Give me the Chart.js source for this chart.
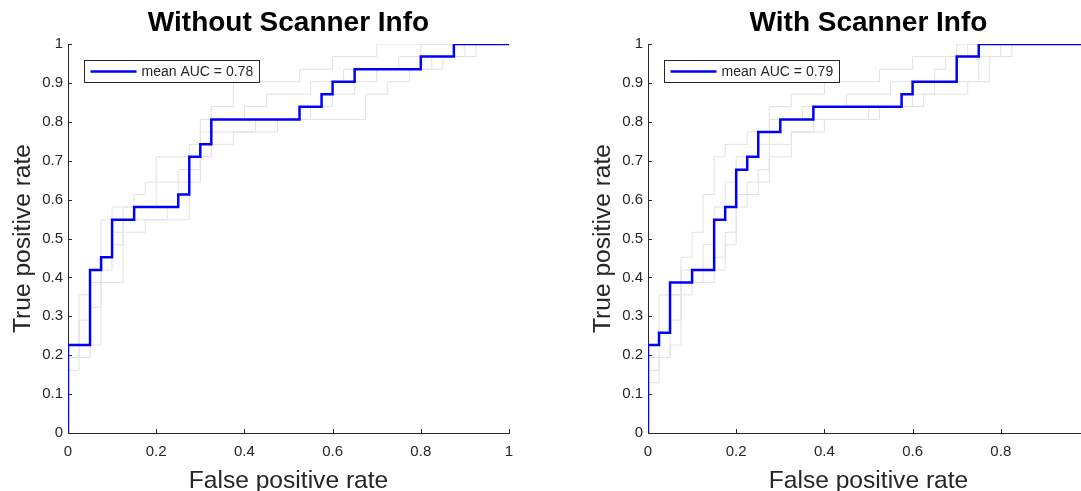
<!DOCTYPE html>
<html>
<head>
<meta charset="utf-8">
<script src="https://cdn.jsdelivr.net/npm/chart.js@4.4.0/dist/chart.umd.min.js"></script>
<style>
html, body { margin: 0; padding: 0; background: #fff; overflow: hidden; width: 1081px; height: 491px; }
.box { position: absolute; top: 0; width: 560px; height: 491px; }
</style>
</head>
<body>
<div class="box" style="left:0"><canvas id="left"></canvas></div>
<div class="box" style="left:580px"><canvas id="right"></canvas></div>
<script>
// ROC curves as step corners: at each fpr the tpr rises to the given value
// left panel: without scanner info
var meanFprA = [0, 0, 0.05, 0.075, 0.1, 0.15, 0.25, 0.275, 0.3, 0.325, 0.525, 0.575, 0.6, 0.65, 0.8, 0.875, 1];
var meanTprA = [0, .226, .419, .452, .548, .581, .613, .710, .742, .806, .839, .871, .903, .935, .968, 1, 1];
var fold1FprA = [0, 0, 0.025, 0.05, 0.075, 0.1, 0.15, 0.175, 0.2, 0.3, 0.325, 0.375, 0.525, 0.6, 0.7, 1];
var fold1TprA = [0, .161, .355, .419, .548, .581, .613, .645, .710, .806, .839, .903, .935, .968, 1, 1];
var fold2FprA = [0, 0, 0.05, 0.075, 0.125, 0.175, 0.275, 0.3, 0.325, 0.375, 0.475, 0.675, 0.725, 0.775, 0.825, 0.925, 1];
var fold2TprA = [0, .194, .226, .387, .516, .548, .645, .710, .742, .774, .806, .871, .903, .935, .968, 1, 1];
var fold3FprA = [0, 0, 0.025, 0.05, 0.075, 0.1, 0.125, 0.2, 0.25, 0.275, 0.3, 0.325, 0.4, 0.45, 0.55, 0.625, 0.75, 0.8, 1];
var fold3TprA = [0, .226, .290, .387, .452, .516, .581, .645, .677, .742, .774, .806, .839, .871, .903, .935, .968, 1, 1];
var fold4FprA = [0, 0, 0.025, 0.05, 0.075, 0.1, 0.125, 0.225, 0.25, 0.275, 0.3, 0.325, 0.425, 0.55, 0.6, 0.65, 0.7, 0.85, 0.9, 1];
var fold4TprA = [0, .194, .226, .323, .419, .484, .548, .581, .645, .677, .710, .774, .806, .839, .871, .903, .935, .968, 1, 1];

// right panel: with scanner info
var meanFprB = [0, 0, 0.025, 0.05, 0.1, 0.15, 0.175, 0.2, 0.225, 0.25, 0.3, 0.375, 0.575, 0.6, 0.7, 0.75, 1];
var meanTprB = [0, .226, .258, .387, .419, .548, .581, .677, .710, .774, .806, .839, .871, .903, .968, 1, 1];
var fold1FprB = [0, 0, 0.025, 0.075, 0.1, 0.125, 0.15, 0.175, 0.225, 0.275, 0.325, 0.4, 0.525, 0.6, 0.7, 1];
var fold1TprB = [0, .226, .355, .452, .516, .613, .710, .742, .774, .839, .871, .903, .935, .968, 1, 1];
var fold2FprB = [0, 0, 0.025, 0.05, 0.075, 0.125, 0.175, 0.2, 0.225, 0.275, 0.325, 0.4, 0.525, 0.625, 0.725, 0.775, 0.825, 1];
var fold2TprB = [0, .129, .194, .226, .387, .419, .484, .581, .645, .710, .774, .806, .839, .871, .903, .968, 1, 1];
var fold3FprB = [0, 0, 0.025, 0.05, 0.075, 0.125, 0.15, 0.175, 0.2, 0.25, 0.275, 0.35, 0.45, 0.55, 0.65, 0.675, 0.725, 1];
var fold3TprB = [0, .161, .258, .355, .419, .484, .581, .645, .710, .742, .806, .839, .871, .903, .935, .968, 1, 1];
var fold4FprB = [0, 0, 0.05, 0.075, 0.1, 0.15, 0.175, 0.2, 0.25, 0.275, 0.325, 0.375, 0.5, 0.6, 0.65, 0.75, 0.8, 1];
var fold4TprB = [0, .194, .290, .355, .387, .452, .516, .613, .677, .742, .774, .806, .839, .871, .903, .968, 1, 1];

var titleA = 'Without Scanner Info';
var titleB = 'With Scanner Info';
var aucA = 0.78;
var aucB = 0.79;

var fontFamily = "'Liberation Sans', Arial, Helvetica, sans-serif";
var axisColor = '#262626';

function toPoints(fpr, tpr) {
    return fpr.map((x, i) => ({x: x, y: tpr[i]}));
}

// matlab style labels: 0, 0.2, ... 1
function tickText(v) {
    return String(+v.toFixed(1));
}

// ticks inside the axes plus the boxed legend, like the original figure
var extras = {
    id: 'extras',
    afterDraw(chart) {
        var ctx = chart.ctx, a = chart.chartArea, xs = chart.scales.x, ys = chart.scales.y;
        ctx.save();
        ctx.strokeStyle = axisColor;
        ctx.lineWidth = 1;
        ctx.beginPath();
        xs.ticks.forEach(t => {
            var px = Math.round(xs.getPixelForValue(t.value)) + 0.5;
            ctx.moveTo(px, a.bottom);
            ctx.lineTo(px, a.bottom - 4);
        });
        ys.ticks.forEach(t => {
            var py = Math.round(ys.getPixelForValue(t.value)) + 0.5;
            ctx.moveTo(a.left, py);
            ctx.lineTo(a.left + 4, py);
        });
        ctx.stroke();

        var ds = chart.data.datasets[0];
        ctx.font = '14px ' + fontFamily;
        var tw = ctx.measureText(ds.label).width;
        var bx = Math.round(a.left + 16) + 0.5, by = Math.round(a.top + 16) + 0.5;
        var bw = Math.round(6 + 46 + 5 + tw + 6), bh = 22;
        ctx.fillStyle = '#fff';
        ctx.fillRect(bx, by, bw, bh);
        ctx.strokeStyle = axisColor;
        ctx.strokeRect(bx, by, bw, bh);
        ctx.strokeStyle = ds.borderColor;
        ctx.lineWidth = ds.borderWidth;
        ctx.beginPath();
        ctx.moveTo(bx + 6, by + bh / 2);
        ctx.lineTo(bx + 52, by + bh / 2);
        ctx.stroke();
        ctx.fillStyle = axisColor;
        ctx.textBaseline = 'middle';
        ctx.fillText(ds.label, bx + 57, by + bh / 2 + 0.5);
        ctx.restore();
    }
};

function makeChart(id, title, auc, mean, folds) {
    var datasets = [{
        label: 'mean AUC = ' + auc.toFixed(2),
        data: toPoints(mean[0], mean[1]),
        borderColor: '#0000ff',
        borderWidth: 2.5,
        stepped: true,
        pointRadius: 0,
        fill: false
    }];
    folds.forEach(f => {
        datasets.push({
            label: 'fold',
            data: toPoints(f[0], f[1]),
            borderColor: '#e2e2e2',
            borderWidth: 1,
            stepped: true,
            pointRadius: 0,
            fill: false
        });
    });
    return new Chart(document.getElementById(id), {
        type: 'line',
        data: {datasets: datasets},
        plugins: [extras],
        options: {
            responsive: true,
            maintainAspectRatio: false,
            animation: false,
            layout: {padding: {left: 0, right: 51, top: 0, bottom: 0}},
            plugins: {
                legend: {display: false},
                tooltip: {enabled: false},
                title: {
                    display: true,
                    text: title,
                    fullSize: false,
                    color: '#000',
                    font: {family: fontFamily, size: 28, weight: 'bold', lineHeight: 1},
                    padding: {top: 9.3, bottom: 6.7}
                }
            },
            scales: {
                x: {
                    type: 'linear',
                    min: 0,
                    max: 1,
                    afterFit: s => { s.height = 58; },
                    grid: {drawOnChartArea: false, drawTicks: false},
                    border: {color: axisColor, width: 1},
                    ticks: {stepSize: 0.2, padding: 10, maxRotation: 0, color: axisColor,
                        font: {family: fontFamily, size: 15}, callback: tickText},
                    title: {display: true, text: 'False positive rate', color: axisColor,
                        font: {family: fontFamily, size: 24.6, lineHeight: 1}, padding: {top: 0, bottom: -3}}
                },
                y: {
                    type: 'linear',
                    min: 0,
                    max: 1,
                    afterFit: s => { s.width = 68; },
                    grid: {drawOnChartArea: false, drawTicks: false},
                    border: {color: axisColor, width: 1},
                    ticks: {stepSize: 0.1, padding: 5, color: axisColor,
                        font: {family: fontFamily, size: 15}, callback: tickText},
                    title: {display: true, text: 'True positive rate', color: axisColor,
                        font: {family: fontFamily, size: 24.6, lineHeight: 1}, padding: {top: 10.5, bottom: 0}}
                }
            }
        }
    });
}

makeChart('left', titleA, aucA, [meanFprA, meanTprA],
    [[fold1FprA, fold1TprA], [fold2FprA, fold2TprA], [fold3FprA, fold3TprA], [fold4FprA, fold4TprA]]);
makeChart('right', titleB, aucB, [meanFprB, meanTprB],
    [[fold1FprB, fold1TprB], [fold2FprB, fold2TprB], [fold3FprB, fold3TprB], [fold4FprB, fold4TprB]]);
</script>
</body>
</html>
